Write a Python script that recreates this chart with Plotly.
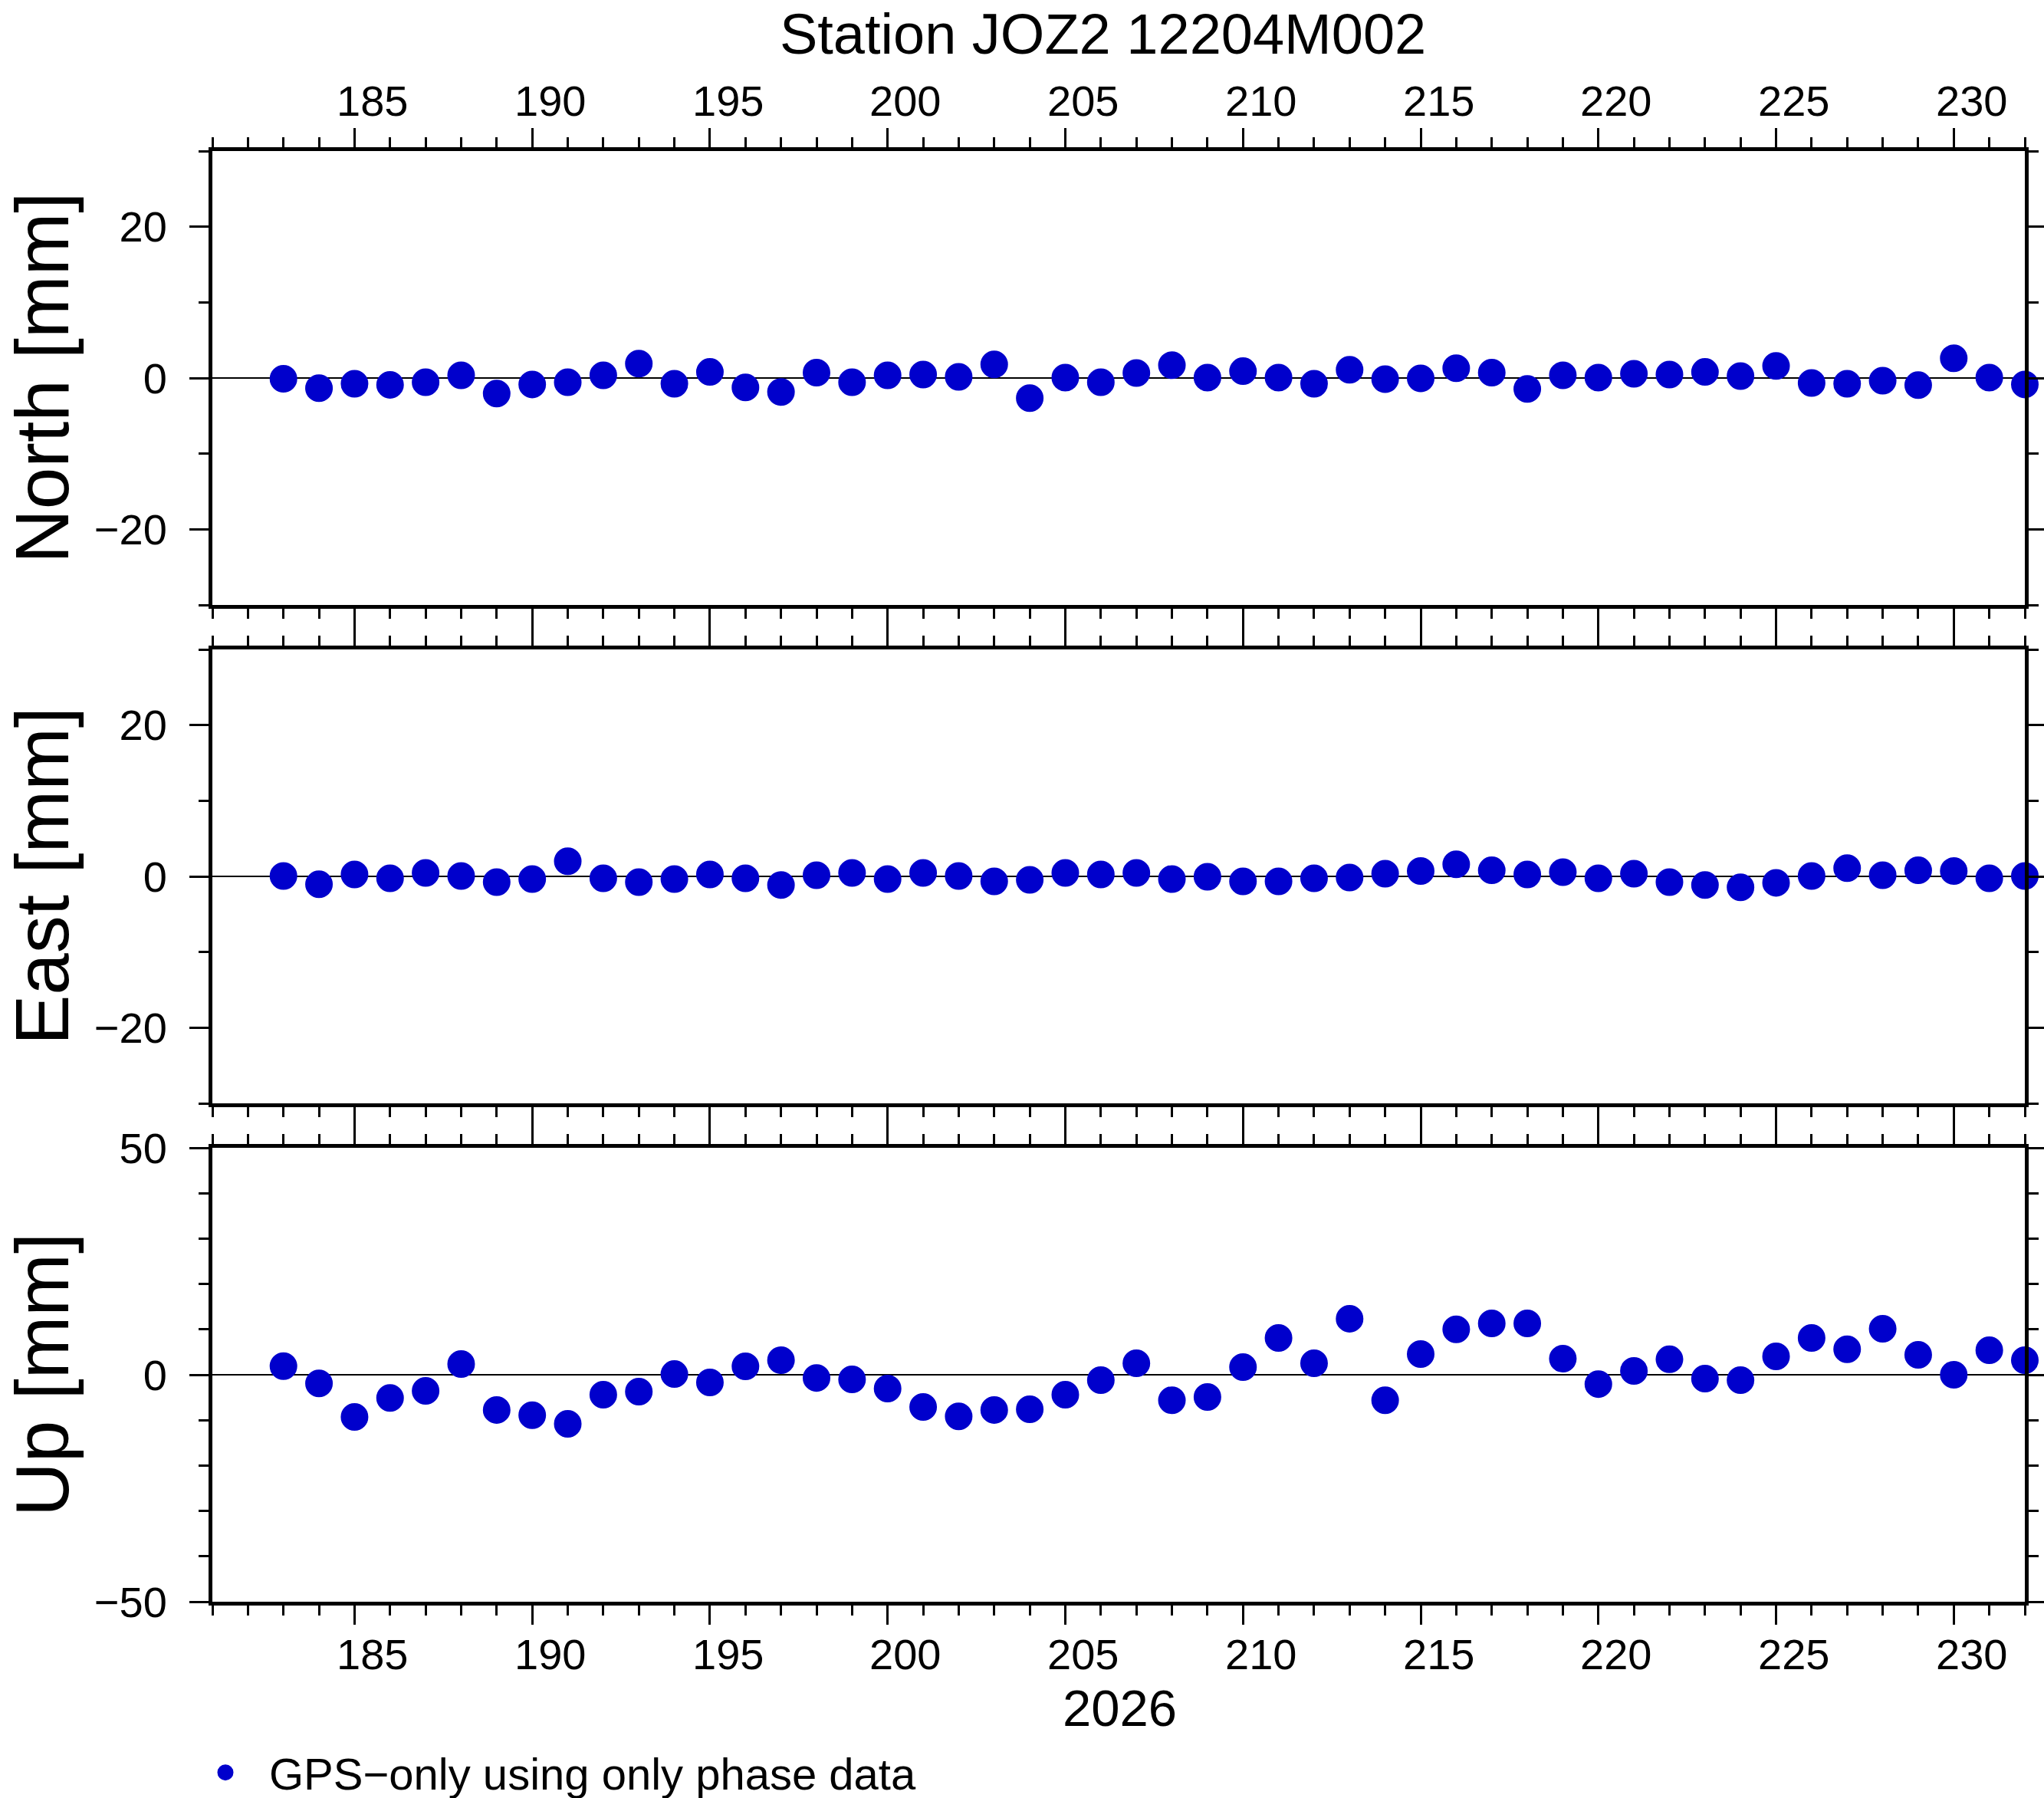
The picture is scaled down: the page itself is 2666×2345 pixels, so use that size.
import plotly.graph_objects as go

# ---------------- data ----------------
days = [183, 184, 185, 186, 187, 188, 189, 190, 191, 192,
        193, 194, 195, 196, 197, 198, 199, 200, 201, 202,
        203, 204, 205, 206, 207, 208, 209, 210, 211, 212,
        213, 214, 215, 216, 217, 218, 219, 220, 221, 222,
        223, 224, 225, 226, 227, 228, 229, 230, 231, 232]

north = [-0.1, -1.35, -0.75, -0.9, -0.55, 0.35, -2.05, -0.85, -0.55, 0.35,
         1.9, -0.75, 0.8, -1.25, -1.85, 0.7, -0.55, 0.35, 0.45, 0.15,
         1.8, -2.65, 0.05, -0.55, 0.65, 1.7, 0.05, 0.9, 0.05, -0.75,
         1.1, -0.15, -0.05, 1.3, 0.7, -1.45, 0.35, 0.05, 0.55, 0.45,
         0.8, 0.25, 1.6, -0.65, -0.75, -0.35, -0.95, 2.6, 0.05, -0.85]

east = [0.05, -1.05, 0.25, -0.25, 0.45, 0.05, -0.75, -0.35, 2.0, -0.25,
        -0.75, -0.35, 0.25, -0.25, -1.15, 0.15, 0.45, -0.35, 0.45, 0.05,
        -0.65, -0.45, 0.45, 0.25, 0.45, -0.35, -0.05, -0.65, -0.65, -0.25,
        -0.15, 0.35, 0.7, 1.6, 0.8, 0.25, 0.55, -0.25, 0.35, -0.75,
        -1.15, -1.45, -0.85, 0.05, 1.1, 0.15, 0.8, 0.7, -0.25, 0.05]

up = [1.9, -1.9, -9.3, -5.1, -3.55, 2.35, -7.75, -8.9, -10.8, -4.4,
      -3.7, 0.15, -1.7, 1.85, 3.2, -0.7, -1.0, -3.05, -7.1, -9.15,
      -7.75, -7.6, -4.4, -1.2, 2.55, -5.6, -4.9, 1.7, 8.1, 2.55,
      12.35, -5.6, 4.55, 10.0, 11.3, 11.3, 3.55, -2.05, 0.85, 3.4,
      -0.85, -1.2, 4.05, 8.1, 5.6, 10.15, 4.4, 0.0, 5.4, 3.2]

x_range = [181, 232]
x_label_days = [185, 190, 195, 200, 205, 210, 215, 220, 225, 230]
panel_titles = ["North [mm]", "East [mm]", "Up [mm]"]
y_ranges = [[-30, 30], [-30, 30], [-50, 50]]
y_major = [20, 20, 50]
y_minor = [10, 10, 10]
title_text = "Station JOZ2 12204M002"
year_text = "2026"
legend_text = "GPS\u2212only using only phase data"

# ---------------- style ----------------
W, H = 2666, 2345
FONT = "Liberation Sans, Arial, Helvetica, sans-serif"
BLUE = "#0000CC"
x_dom = [277 / W, 2641 / W]
panels_px = [(197, 789), (847, 1439), (1497, 2089)]
y_doms = [[1 - b / H, 1 - t / H] for t, b in panels_px]

fig = go.Figure()
series = [north, east, up]
for i, vals in enumerate(series):
    fig.add_trace(go.Scatter(
        x=days, y=vals, mode="markers",
        marker=dict(color=BLUE, size=31, line=dict(color=BLUE, width=5)),
        xaxis="x" if i == 0 else f"x{i+1}",
        yaxis="y" if i == 0 else f"y{i+1}",
        name=legend_text, showlegend=(i == 0), cliponaxis=False,
    ))

layout = dict(
    width=W, height=H,
    margin=dict(l=0, r=0, t=0, b=0, autoexpand=False),
    paper_bgcolor="white", plot_bgcolor="white",
    font=dict(family=FONT, color="black", size=56),
    title=dict(text=title_text, x=0.5396, xanchor="center", xref="paper",
               y=1 - 44 / H, yanchor="middle", yref="paper",
               font=dict(family=FONT, size=74, color="black")),
    showlegend=True,
    legend=dict(x=237 / W, xanchor="left", y=1 - 2312 / H, yanchor="middle",
                font=dict(family=FONT, size=58, color="black"),
                bgcolor="rgba(0,0,0,0)", itemwidth=104),
)

for i in range(3):
    xa = dict(
        domain=x_dom, range=x_range, anchor="y" if i == 0 else f"y{i+1}",
        tickmode="linear", tick0=180, dtick=5,
        ticks="outside", ticklen=25, tickwidth=3, tickcolor="black",
        showticklabels=False, showline=True, linewidth=5, linecolor="black",
        mirror="ticks", showgrid=False, zeroline=False,
        side="top" if i == 0 else "bottom",
        minor=dict(tick0=181, dtick=1, ticks="outside", ticklen=13,
                   tickwidth=3, tickcolor="black", showgrid=False),
    )
    ya = dict(
        domain=y_doms[i], range=y_ranges[i], anchor="x" if i == 0 else f"x{i+1}",
        tickmode="linear", tick0=0, dtick=y_major[i],
        ticks="outside", ticklen=25, tickwidth=3, tickcolor="black",
        tickfont=dict(family=FONT, size=56, color="black"),
        ticklabelstandoff=18,
        showline=True, linewidth=5, linecolor="black", mirror="ticks",
        showgrid=False, zeroline=True, zerolinecolor="black", zerolinewidth=1.5,
        minor=dict(tick0=0, dtick=y_minor[i], ticks="outside", ticklen=13,
                   tickwidth=3, tickcolor="black", showgrid=False),
    )
    layout["xaxis" if i == 0 else f"xaxis{i+1}"] = xa
    layout["yaxis" if i == 0 else f"yaxis{i+1}"] = ya

annotations = []
# day labels, centred on the middle of each labelled day
for d in x_label_days:
    annotations.append(dict(x=d + 0.5, xref="x", y=1 - 131 / H, yref="paper",
                            text=str(d), showarrow=False, yanchor="middle",
                            font=dict(family=FONT, size=56, color="black")))
    annotations.append(dict(x=d + 0.5, xref="x3", y=1 - 2157 / H, yref="paper",
                            text=str(d), showarrow=False, yanchor="middle",
                            font=dict(family=FONT, size=56, color="black")))
annotations.append(dict(x=1460 / W, xref="paper", y=1 - 2227 / H, yref="paper",
                        text=year_text, showarrow=False, yanchor="middle",
                        font=dict(family=FONT, size=67, color="black")))
for i, t in enumerate(panel_titles):
    annotations.append(dict(x=55 / W, xref="paper",
                            y=(y_doms[i][0] + y_doms[i][1]) / 2, yref="paper",
                            text=t, textangle=-90, showarrow=False,
                            xanchor="center", yanchor="middle",
                            font=dict(family=FONT, size=98, color="black")))
layout["annotations"] = annotations

fig.update_layout(**layout)
fig.write_html("out.html",
               config={"displayModeBar": False},
               post_script="document.body.style.margin='0';"
                           "document.body.style.overflow='hidden';")
